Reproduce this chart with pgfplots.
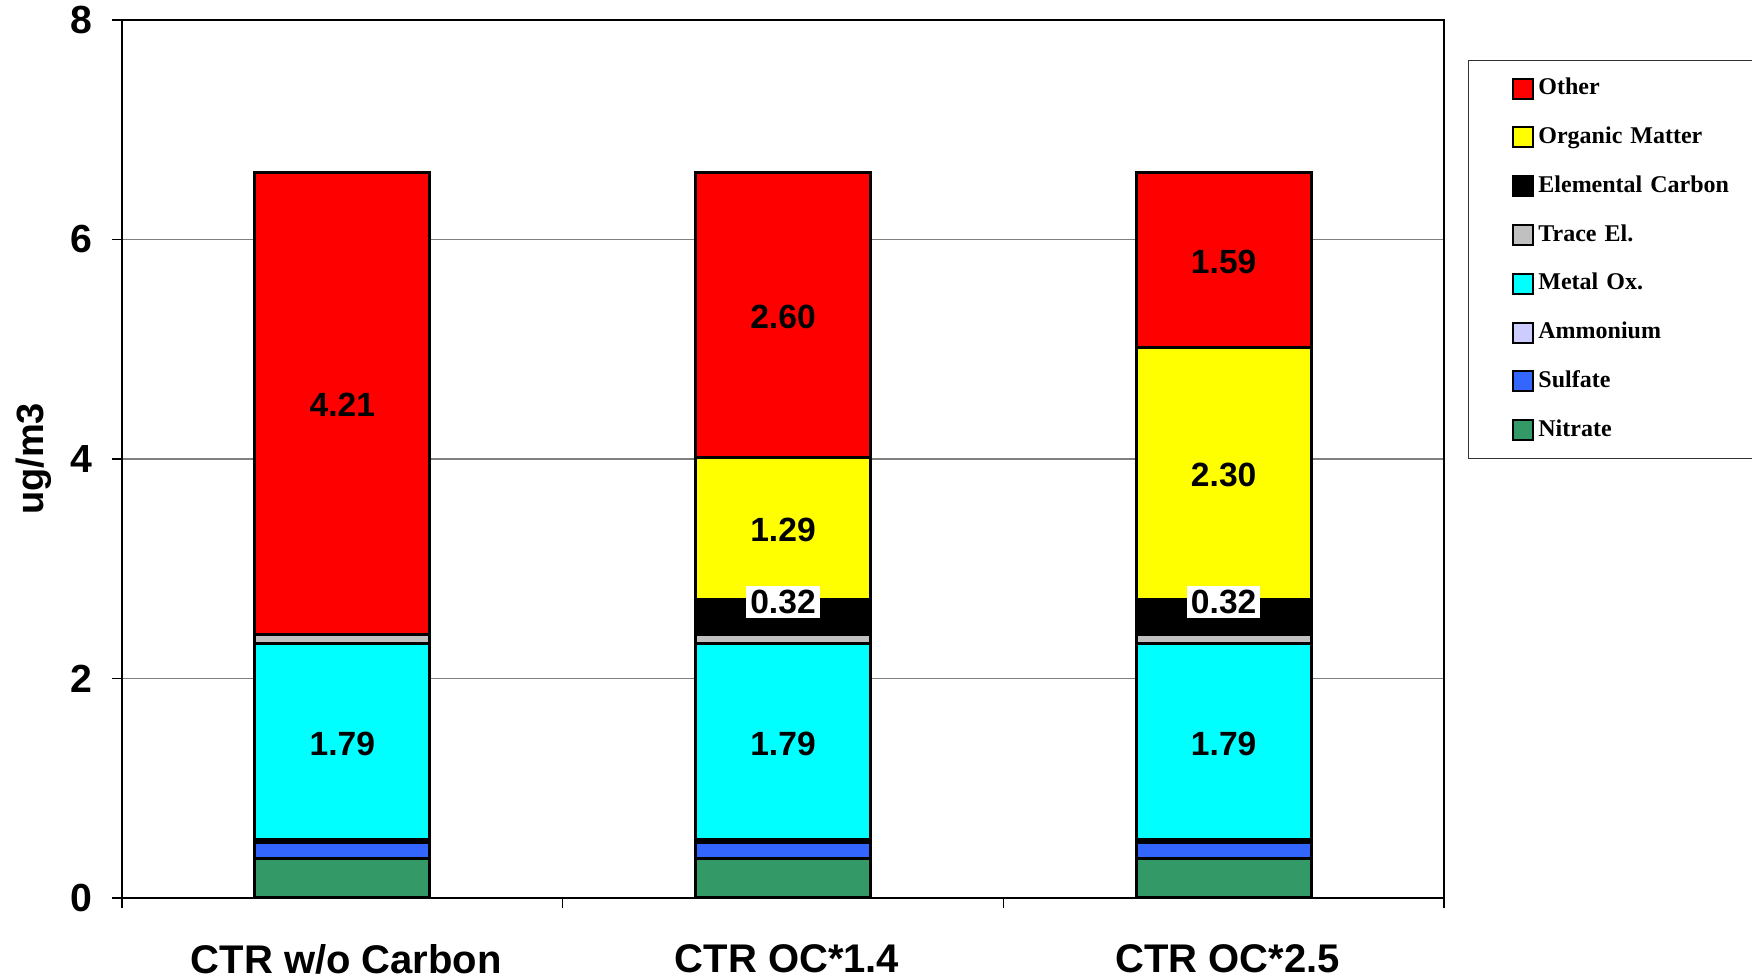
\documentclass[border=0pt]{standalone}
\usepackage{pgfplots}
\pgfplotsset{compat=1.18}
\usepackage{fontspec}
\setmainfont{Liberation Sans}
\newfontfamily\legfont{Liberation Serif}

\definecolor{cOther}{HTML}{FF0000}
\definecolor{cOM}{HTML}{FFFF00}
\definecolor{cEC}{HTML}{000000}
\definecolor{cTrace}{HTML}{C0C0C0}
\definecolor{cMetal}{HTML}{00FFFF}
\definecolor{cAmm}{HTML}{CCCCFF}
\definecolor{cSulf}{HTML}{3366FF}
\definecolor{cNitr}{HTML}{339966}

% segments, bottom to top; x = category centre
\pgfplotstableread{
x    nitr sulf amm  metal trace ec   om   other
0.5  0.36 0.15 0.02 1.79  0.08  0.00 0.00 4.21
1.5  0.36 0.15 0.02 1.79  0.08  0.32 1.29 2.60
2.5  0.36 0.15 0.02 1.79  0.08  0.32 2.30 1.59
}\masses

\begin{document}
\begin{tikzpicture}
\pgfplotsset{
  frame/.style={
    scale only axis, width=330.5pt, height=219.5pt,
    xmin=0, xmax=3, ymin=0, ymax=8,
  },
  seg/.style={fill=#1, draw=black, line width=0.75pt},
}
\begin{axis}[
  frame,
  ybar stacked, bar width=43.75pt,
  axis line style={black, line width=0.4pt},
  ytick={0,2,4,6,8},
  xtick={0,1,2,3}, xticklabels={},
  extra x ticks={0.5,1.5,2.5},
  extra x tick labels={CTR w/o Carbon, CTR OC*1.4, CTR OC*2.5},
  extra x tick style={major tick length=0pt,
    tick label style={font=\bfseries\fontsize{10}{12}\selectfont, yshift=-8pt, xshift=1pt}},
  tick align=outside, major tick length=2.6pt,
  xtick pos=bottom, ytick pos=left,
  tick style={black, line width=0.3pt},
  ymajorgrids, grid style={gray, line width=0.3pt},
  yticklabel style={font=\bfseries\fontsize{9.8}{11}\selectfont, xshift=-1.2pt},
  /pgf/number format/assume math mode=true,
  ylabel={ug/m3},
  every axis y label/.style={at={(rel axis cs:0,0.5)}, anchor=center, rotate=90,
    yshift=22pt, font=\bfseries\fontsize{9.5}{11}\selectfont},
  legend style={at={(1.018,0.9544)}, anchor=north west, draw=black!80,
    line width=0.3pt, font=\legfont\bfseries\fontsize{6}{7}\selectfont,
    row sep=4.2pt, inner xsep=11pt, inner ysep=3pt,
    nodes={text width=62pt, text height=4.5pt, text depth=1.5pt, inner sep=1pt, align=left}},
  legend cell align=left,
  legend image code/.code={\draw[#1, line width=0.5pt] (0pt,-2.5pt) rectangle (5pt,2.5pt);},
  reverse legend,
]
\addplot[seg=cNitr]  table[x=x, y=nitr]  {\masses};
\addplot[seg=cSulf]  table[x=x, y=sulf]  {\masses};
\addplot[seg=cAmm]   table[x=x, y=amm]   {\masses};
\addplot[seg=cMetal] table[x=x, y=metal] {\masses};
\addplot[seg=cTrace] table[x=x, y=trace] {\masses};
\addplot[seg=cEC]    table[x=x, y=ec]    {\masses};
\addplot[seg=cOM]    table[x=x, y=om]    {\masses};
\addplot[seg=cOther] table[x=x, y=other] {\masses};
\legend{Nitrate, Sulfate, Ammonium, Metal Ox., Trace El., Elemental Carbon, Organic Matter, Other}
\end{axis}

% value labels, placed at segment centres
\begin{axis}[frame, hide axis, clip=false,
  every node near coord/.append style={anchor=center, text=black, yshift=-0.7pt,
    font=\bfseries\fontsize{8.4}{10}\selectfont, inner sep=1pt}]
\addplot[draw=none, mark=none, nodes near coords, point meta=explicit symbolic]
  table[meta=lab] {
x   y     lab
0.5 4.515 4.21
1.5 5.32  2.60
2.5 5.825 1.59
1.5 3.375 1.29
2.5 3.88  2.30
0.5 1.425 1.79
1.5 1.425 1.79
2.5 1.425 1.79
};
\addplot[draw=none, mark=none, nodes near coords, point meta=explicit symbolic,
  every node near coord/.append style={fill=white}]
  table[meta=lab] {
x   y    lab
1.5 2.72 0.32
2.5 2.72 0.32
};
\end{axis}

\pgfresetboundingbox
\path[use as bounding box] ([xshift=-30.5pt,yshift=-20.25pt]current axis.south west)
  rectangle ([xshift=77pt,yshift=5pt]current axis.north east);
\end{tikzpicture}
\end{document}
